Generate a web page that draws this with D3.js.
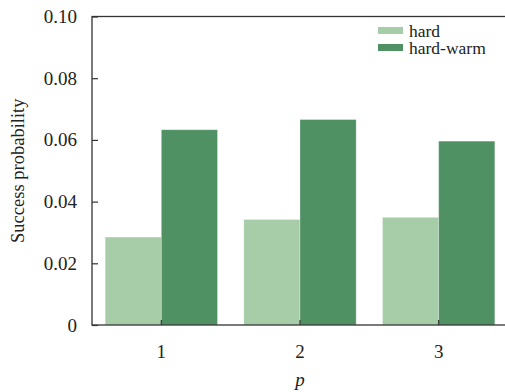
<!DOCTYPE html>
<html>
<head>
<meta charset="utf-8">
<script src="https://cdn.jsdelivr.net/npm/d3@7"></script>
<style>
  body { margin: 0; background: #fff; }
  text { font-family: "Liberation Serif", "Times New Roman", serif; fill: #222; }
</style>
</head>
<body>
<svg id="mainsvg" width="505" height="392"></svg>
<script>
const categories = ['1', '2', '3'];
const seriesNames = ['hard', 'hard-warm'];
const hardValues = [0.0285, 0.0342, 0.0349];
const hardWarmValues = [0.0633, 0.0666, 0.0596];
const yTicks = [0, 0.02, 0.04, 0.06, 0.08, 0.10];
const colors = ['#a6cca8', '#4f9163'];

let svg = d3.select('#mainsvg');
const mLeft = 92, mRight = 508, mTop = 16.5, mBottom = 325;

const x0 = d3.scaleBand().domain(categories).range([mLeft, mRight])
  .paddingInner(0.19).paddingOuter(0.095);
const x1 = d3.scaleBand().domain(seriesNames).range([0, x0.bandwidth()]);
const y = d3.scaleLinear().domain([0, 0.1]).range([mBottom, mTop]);

const rows = categories.map((c, i) => ({cat: c, vals: [hardValues[i], hardWarmValues[i]]}));

// bars
svg.append('g').selectAll('g').data(rows).enter().append('g')
  .attr('transform', d => `translate(${x0(d.cat)},0)`)
  .selectAll('rect').data(d => d.vals.map((v, j) => ({name: seriesNames[j], v: v, j: j})))
  .enter().append('rect')
  .attr('x', d => x1(d.name))
  .attr('y', d => y(d.v))
  .attr('width', x1.bandwidth())
  .attr('height', d => y(0) - y(d.v))
  .attr('fill', d => colors[d.j])
  .attr('stroke', 'rgba(255,255,255,0.35)')
  .attr('stroke-width', 0.8);

// frame
svg.append('rect')
  .attr('x', mLeft).attr('y', mTop)
  .attr('width', mRight - mLeft).attr('height', mBottom - mTop)
  .attr('fill', 'none').attr('stroke', '#333').attr('stroke-width', 1.3);

// y axis
const yAxis = d3.axisLeft(y).tickValues(yTicks).tickSize(-6).tickPadding(15)
  .tickFormat(d => d === 0 ? '0' : d3.format('.2f')(d));
svg.append('g').attr('transform', `translate(${mLeft},0)`).call(yAxis)
  .attr('font-family', null)
  .call(g => g.select('.domain').remove())
  .call(g => g.selectAll('line').attr('stroke', '#333').attr('stroke-width', 1.2))
  .call(g => g.selectAll('text').attr('font-size', 19).attr('fill', '#222'));

// x axis
const xAxis = d3.axisBottom(x0).tickSize(-5).tickPadding(20);
svg.append('g').attr('transform', `translate(0,${mBottom})`).call(xAxis)
  .attr('font-family', null)
  .call(g => g.select('.domain').remove())
  .call(g => g.selectAll('line').attr('stroke', '#333').attr('stroke-width', 1.2))
  .call(g => g.selectAll('text').attr('font-size', 19).attr('fill', '#222'));

// axis labels
svg.append('text')
  .attr('transform', `translate(24,${(mTop + mBottom) / 2}) rotate(-90)`)
  .attr('text-anchor', 'middle').attr('font-size', 18.5)
  .text('Success probability');
svg.append('text')
  .attr('x', x0('2') + x0.bandwidth() / 2).attr('y', 386)
  .attr('text-anchor', 'middle').attr('font-size', 19).attr('font-style', 'italic')
  .text('p');

// legend
const legend = svg.append('g').selectAll('g').data(seriesNames).enter().append('g')
  .attr('transform', (d, i) => `translate(378,${27 + i * 17})`);
legend.append('rect').attr('width', 25).attr('height', 7).attr('fill', (d, i) => colors[i]);
legend.append('text').attr('x', 31).attr('y', 10).attr('font-size', 17.5).text(d => d);
</script>
</body>
</html>
